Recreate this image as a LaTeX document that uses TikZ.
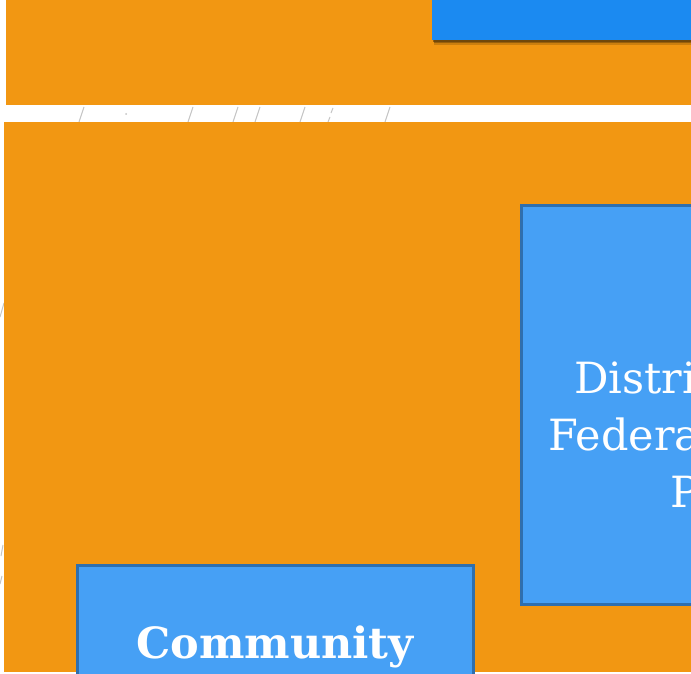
\documentclass[tikz,border=0pt]{standalone}
\usepackage{fontspec}
\setmainfont{DejaVu Serif}
\definecolor{slideorange}{HTML}{F29712}
\definecolor{topblue}{HTML}{1B8AF1}
\definecolor{boxblue}{HTML}{46A0F5}
\definecolor{boxedge}{HTML}{2F6FAE}
\definecolor{decogray}{HTML}{C4C4C4}
\definecolor{shadowbrown}{HTML}{5A3A08}
\tikzset{
  panel/.style={fill=slideorange, draw=none},
  bluebox/.style={fill=boxblue, draw=boxedge, line width=2.6pt},
  boxtext/.style={text=white, font=\fontsize{43}{57}\selectfont, inner sep=0pt},
  deco/.style={draw=decogray, line width=1pt},
}
\begin{document}
\begin{tikzpicture}[x=1pt,y=-1pt]
\useasboundingbox (0,0) rectangle (691,674);
\clip (0,0) rectangle (691,674);
\fill[white] (0,0) rectangle (691,674);
% faint background decoration
\foreach \xx in {81,190,235,257,302,387} {
  \draw[deco] (\xx-2,122) -- (\xx+3,107);
}
\draw[deco] (328,122) -- (330,117);
\draw[deco] (331,113) -- (333,108);
\fill[decogray] (126,114) circle (1);
\draw[deco] (0,317) -- (4,303);
\draw[deco] (1,556) -- (3,545);
\draw[deco] (0,584) -- (2,576);
% panels
\node[panel, minimum width=685pt, minimum height=105pt, anchor=north west, inner sep=0pt] (toppanel) at (6,0) {};
\node[panel, minimum width=687pt, minimum height=550pt, anchor=north west, inner sep=0pt] (mainpanel) at (4,122) {};
% top blue box with soft shadow
\fill[shadowbrown, opacity=0.25] (434,0) rectangle (700,45);
\fill[shadowbrown, opacity=0.45] (434,0) rectangle (700,43.5);
\fill[shadowbrown, opacity=0.6] (433,0) rectangle (700,42);
\node[fill=topblue, draw=none, minimum width=270pt, minimum height=50pt, anchor=south west, inner sep=0pt] (topbox) at (432,40) {};
% right box
\node[bluebox, minimum width=220pt, minimum height=399pt, anchor=north west, inner sep=0pt] (rightbox) at (520,204) {};
\node[boxtext, anchor=base west] (l1) at (574,393) {Distri};
\node[boxtext, anchor=base west] (l2) at (548,450) {Federa};
\node[boxtext, anchor=base west] (l3) at (670,507) {P};
% bottom-left box
\node[bluebox, minimum width=396pt, minimum height=130pt, anchor=north west, inner sep=0pt] (commbox) at (76,564) {};
\node[boxtext, font=\fontsize{43}{57}\selectfont\bfseries, anchor=base] (comm) at (275,658) {Community};
\end{tikzpicture}
\end{document}
